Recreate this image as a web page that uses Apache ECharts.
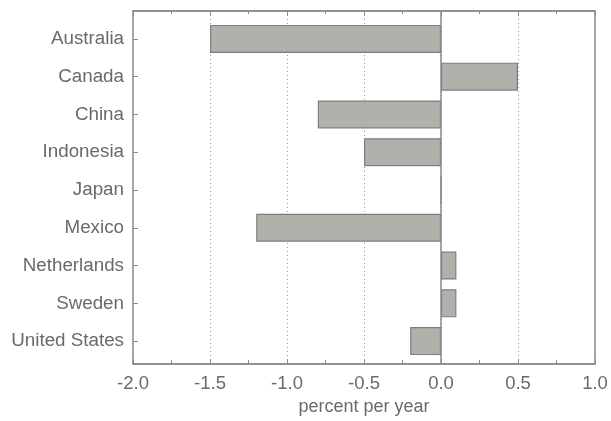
<!DOCTYPE html>
<html>
<head>
<meta charset="utf-8">
<script src="https://cdn.jsdelivr.net/npm/echarts@6/dist/echarts.min.js"></script>
<style>
  html, body { margin: 0; padding: 0; background: #fff; }
  #chart { width: 611px; height: 421px; }
</style>
</head>
<body>
<div id="chart"></div>
<script>
// Countries listed top to bottom
const countries = ['Australia', 'Canada', 'China', 'Indonesia', 'Japan', 'Mexico', 'Netherlands', 'Sweden', 'United States'];
// Change in percent per year
const rates = [-1.5, 0.5, -0.8, -0.5, 0.0, -1.2, 0.1, 0.1, -0.2];
const xTicks = [-2.0, -1.5, -1.0, -0.5, 0.0, 0.5, 1.0];

const font = 'Liberation Sans, Arial, Helvetica, sans-serif';
const axisGray = '#8a8a8a';
const textGray = '#6a6a6a';

const chart = echarts.init(document.getElementById('chart'));
chart.setOption({
  animation: false,
  grid: [
    // outer frame with the value axis
    { left: 133, right: 16, top: 11, bottom: 56, show: true, borderColor: axisGray, borderWidth: 1.5, containLabel: false },
    // inner band area holding the country rows
    { left: 133, right: 16, top: 20, bottom: 61, containLabel: false }
  ],
  xAxis: [
    {
      gridIndex: 0, type: 'value', position: 'bottom',
      min: xTicks[0], max: xTicks[xTicks.length - 1], interval: 0.5,
      axisLine: { show: true, onZero: false, lineStyle: { color: axisGray, width: 1.5 } },
      axisTick: { show: true, inside: true, length: 5, lineStyle: { color: axisGray } },
      minorTick: { show: true, splitNumber: 2, length: 4, lineStyle: { color: axisGray } },
      splitLine: { show: true, lineStyle: { color: '#999', type: [1, 3], width: 1 } },
      axisLabel: { color: textGray, fontSize: 18.5, fontFamily: font, margin: 10, formatter: v => v.toFixed(1) },
      name: 'percent per year', nameLocation: 'middle', nameGap: 25,
      nameTextStyle: { color: textGray, fontSize: 18, fontFamily: font, verticalAlign: 'top' }
    },
    {
      gridIndex: 0, type: 'value', position: 'top',
      min: xTicks[0], max: xTicks[xTicks.length - 1], interval: 0.5,
      axisLine: { show: true, onZero: false, lineStyle: { color: axisGray, width: 1.5 } },
      axisTick: { show: true, inside: true, length: 4, lineStyle: { color: axisGray } },
      minorTick: { show: true, splitNumber: 2, length: 3, lineStyle: { color: axisGray } },
      splitLine: { show: false },
      axisLabel: { show: false }
    },
    {
      gridIndex: 1, type: 'value',
      min: xTicks[0], max: xTicks[xTicks.length - 1],
      show: false
    }
  ],
  yAxis: [
    { gridIndex: 0, type: 'value', min: 0, max: 1, show: false },
    {
      gridIndex: 1, type: 'category', data: countries, inverse: true, position: 'left',
      axisLine: { show: false, onZero: false },
      axisTick: { show: true, inside: true, length: 5, alignWithLabel: true, lineStyle: { color: axisGray } },
      axisLabel: { color: textGray, fontSize: 18.8, fontFamily: font, margin: 9 },
      splitLine: { show: false }
    }
  ],
  series: [
    {
      // solid zero line across the frame
      type: 'line', xAxisIndex: 0, yAxisIndex: 0, data: [],
      markLine: {
        silent: true, symbol: 'none', label: { show: false },
        lineStyle: { color: axisGray, type: 'solid', width: 1.5 },
        data: [{ xAxis: 0 }]
      }
    },
    {
      type: 'bar', xAxisIndex: 2, yAxisIndex: 1,
      data: rates, barWidth: 28,
      itemStyle: { color: '#b0b1aa', borderColor: '#7e7e7e', borderWidth: 1.2 }
    }
  ]
});
</script>
</body>
</html>
